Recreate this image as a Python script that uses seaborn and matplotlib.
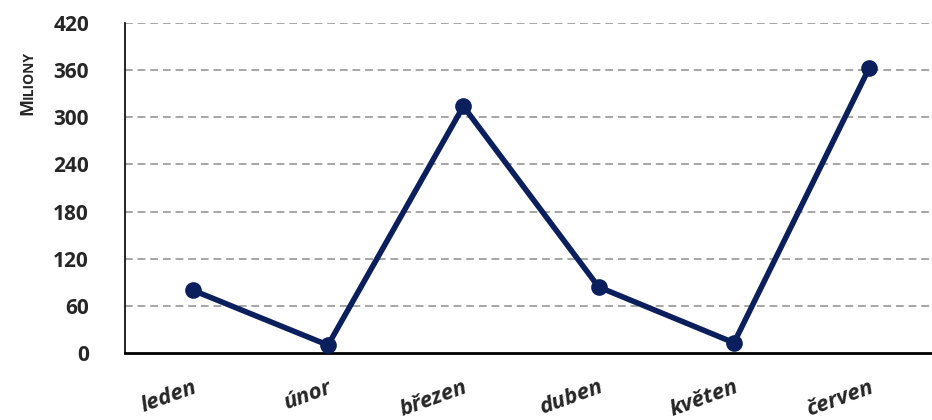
import seaborn as sns
import pandas as pd
import numpy as np
import matplotlib.pyplot as plt

mesice = ["leden", "únor", "březen", "duben", "květen", "červen"]
hodnoty = [80, 10, 314, 84, 13, 363]
y_ticks = [0, 60, 120, 180, 240, 300, 360, 420]

sns.set_style("white")
plt.rcParams['font.family'] = ['Open Sans', 'DejaVu Sans']

df = pd.DataFrame({"mesic": mesice, "hodnota": hodnoty})

fig = plt.figure(figsize=(9.32, 4.2), dpi=100)
ax = fig.add_axes([125 / 932, 1 - 353 / 420, 812 / 932, 330 / 420])

ax.set_axisbelow(True)
for t in y_ticks[1:]:
    ax.axhline(t, color="#a6a6a6", lw=1.4, ls=(0, (4, 2.5)), zorder=0)

sns.lineplot(data=df, x="mesic", y="hodnota", sort=False, ax=ax,
             color="#0b1f5c", lw=4, marker="o", markersize=12,
             markeredgewidth=0, zorder=3)

ax.set_xlim(-0.5, 5.5)
ax.set_ylim(0, 420)
ax.set_yticks(y_ticks)
ax.set_yticklabels([str(t) for t in y_ticks], fontsize=15, fontweight="bold")

# tick marks on category boundaries, labels on centres
ax.set_xticks(np.arange(-0.5, 6, 1))
ax.set_xticklabels([])
ax.set_xticks(np.arange(len(mesice)), minor=True)
ax.set_xticklabels(mesice, minor=True, fontsize=16, fontweight="bold",
                   fontstyle="italic", rotation=20, rotation_mode="anchor",
                   ha="right", va="top")
ax.tick_params(axis="x", which="minor", length=0, pad=17)
ax.tick_params(axis="x", which="major", direction="out", length=6,
               width=1.2, color="black")
ax.tick_params(axis="y", direction="out", length=6, width=1.2,
               color="black", pad=20)

ax.set_xlabel("")
ax.set_ylabel("")
for s in ["top", "right"]:
    ax.spines[s].set_visible(False)
ax.spines["left"].set_linewidth(1.2)
ax.spines["left"].set_color("black")
ax.spines["bottom"].set_linewidth(2)
ax.spines["bottom"].set_color("black")

# "Miliony" in small caps
fig.text(27 / 932, 1 - 115 / 420, "M", rotation=90, ha="center", va="bottom",
         fontsize=13, fontweight="bold")
fig.text(28.5 / 932, 1 - 99 / 420, "ILIONY", rotation=90, ha="center",
         va="bottom", fontsize=10, fontweight="bold")

plt.savefig("out.png", dpi=100)
